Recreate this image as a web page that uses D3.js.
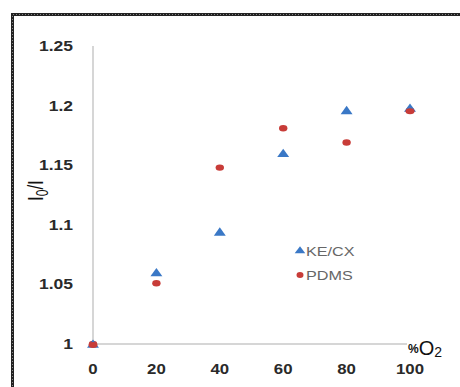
<!DOCTYPE html>
<html>
<head>
<meta charset="utf-8">
<script src="https://cdn.jsdelivr.net/npm/d3@7"></script>
<style>
  body { margin: 0; background: #fff; }
  svg { display: block; font-family: "Liberation Sans", Arial, sans-serif; }
</style>
</head>
<body>
<div id="chart"></div>
<script>
// O2 quenching data
const oxygen = [0, 20, 40, 60, 80, 100];
const kecx = [1.0, 1.06, 1.094, 1.16, 1.196, 1.198];
const pdms = [1.0, 1.051, 1.148, 1.181, 1.169, 1.196];
const xTicks = [0, 20, 40, 60, 80, 100];
const yTicks = [1, 1.05, 1.1, 1.15, 1.2, 1.25];
const seriesNames = ['KE/CX', 'PDMS'];

const width = 460, height = 387;
const svg = d3.select('#chart').append('svg')
    .attr('width', width)
    .attr('height', height);

// outer frame (runs off right and bottom edge)
const frame = 'M12.5,' + (height + 2) + 'V14.5H' + (width + 2);
svg.append('path')
    .attr('d', frame)
    .attr('fill', 'none')
    .attr('stroke', '#222')
    .attr('stroke-width', 3);
svg.append('path')
    .attr('d', frame)
    .attr('fill', 'none')
    .attr('stroke', '#888')
    .attr('stroke-width', 1)
    .attr('stroke-dasharray', '1,2');

const x = d3.scaleLinear().domain([0, 100]).range([93, 410]);
const y = d3.scaleLinear().domain([1, 1.25]).range([344, 46]);

// axis lines
svg.append('line')
    .attr('x1', x(0)).attr('x2', x(0))
    .attr('y1', y(1.25)).attr('y2', y(1))
    .attr('stroke', '#c8c8c8').attr('stroke-width', 1.5);
svg.append('line')
    .attr('x1', x(0)).attr('x2', x(100) - 3)
    .attr('y1', y(1)).attr('y2', y(1))
    .attr('stroke', '#c8c8c8').attr('stroke-width', 1.5);

// tick labels (the original is stretched sideways a bit)
svg.selectAll('.ytick')
    .data(yTicks)
    .enter().append('text')
    .attr('class', 'ytick')
    .attr('transform', d => 'translate(73,' + (y(d) + 5) + ') scale(1.25,1)')
    .attr('text-anchor', 'end')
    .attr('font-size', 14)
    .attr('font-weight', 'bold')
    .attr('fill', '#2a2a2a')
    .text(d => d);

svg.selectAll('.xtick')
    .data(xTicks)
    .enter().append('text')
    .attr('class', 'xtick')
    .attr('transform', d => 'translate(' + x(d) + ',374) scale(1.2,1)')
    .attr('text-anchor', 'middle')
    .attr('font-size', 14)
    .attr('font-weight', 'bold')
    .attr('fill', '#2a2a2a')
    .text(d => d);

// axis titles
const xt = svg.append('text')
    .attr('x', 408)
    .attr('y', 355)
    .attr('fill', '#111');
xt.append('tspan').attr('font-size', 12).attr('font-weight', 'bold').attr('dy', -2).text('%');
xt.append('tspan').attr('font-size', 20).attr('dy', 2).text('O');
xt.append('tspan').attr('font-size', 14).attr('dy', 2).text('2');

const yt = svg.append('text')
    .attr('transform', 'translate(43,201) rotate(-90) scale(1,1.3)')
    .attr('fill', '#111')
    .attr('font-size', 17);
yt.append('tspan').text('I');
yt.append('tspan').attr('font-size', 12).attr('dy', 4).text('0');
yt.append('tspan').attr('dy', -4).text('/I');

const blue = '#3a78c6';
const red = '#c83c38';
const triangle = d3.symbol().type(d3.symbolTriangle).size(56);

// PDMS first so the triangles show through like the original
svg.selectAll('.pdms')
    .data(oxygen)
    .enter().append('ellipse')
    .attr('class', 'pdms')
    .attr('cx', d => x(d))
    .attr('cy', (d, i) => y(pdms[i]))
    .attr('rx', 4.2)
    .attr('ry', 3.2)
    .attr('fill', red);

svg.selectAll('.kecx')
    .data(oxygen)
    .enter().append('path')
    .attr('class', 'kecx')
    .attr('d', triangle)
    .attr('transform', (d, i) => 'translate(' + x(d) + ',' + (y(kecx[i]) + 1) + ') scale(1.05,0.85)')
    .attr('fill', blue);

// redraw PDMS dots at 0 and 100 on top (they cover the triangle there)
svg.selectAll('.pdmsTop')
    .data([0, 5])
    .enter().append('ellipse')
    .attr('cx', i => x(oxygen[i]))
    .attr('cy', i => y(pdms[i]) + 1)
    .attr('rx', 4.5)
    .attr('ry', 3)
    .attr('fill', red);

// legend
const legend = svg.append('g').attr('transform', 'translate(300,251)');
legend.append('path')
    .attr('d', d3.symbol().type(d3.symbolTriangle).size(40))
    .attr('transform', 'scale(1.1,0.85)')
    .attr('fill', blue);
legend.append('ellipse')
    .attr('cx', 0).attr('cy', 24)
    .attr('rx', 3.5).attr('ry', 3)
    .attr('fill', red);
legend.selectAll('text')
    .data(seriesNames)
    .enter().append('text')
    .attr('transform', (d, i) => 'translate(6,' + (i * 24 + 5) + ') scale(1.35,1)')
    .attr('font-size', 12)
    .attr('fill', '#666')
    .text(d => d);
</script>
</body>
</html>
